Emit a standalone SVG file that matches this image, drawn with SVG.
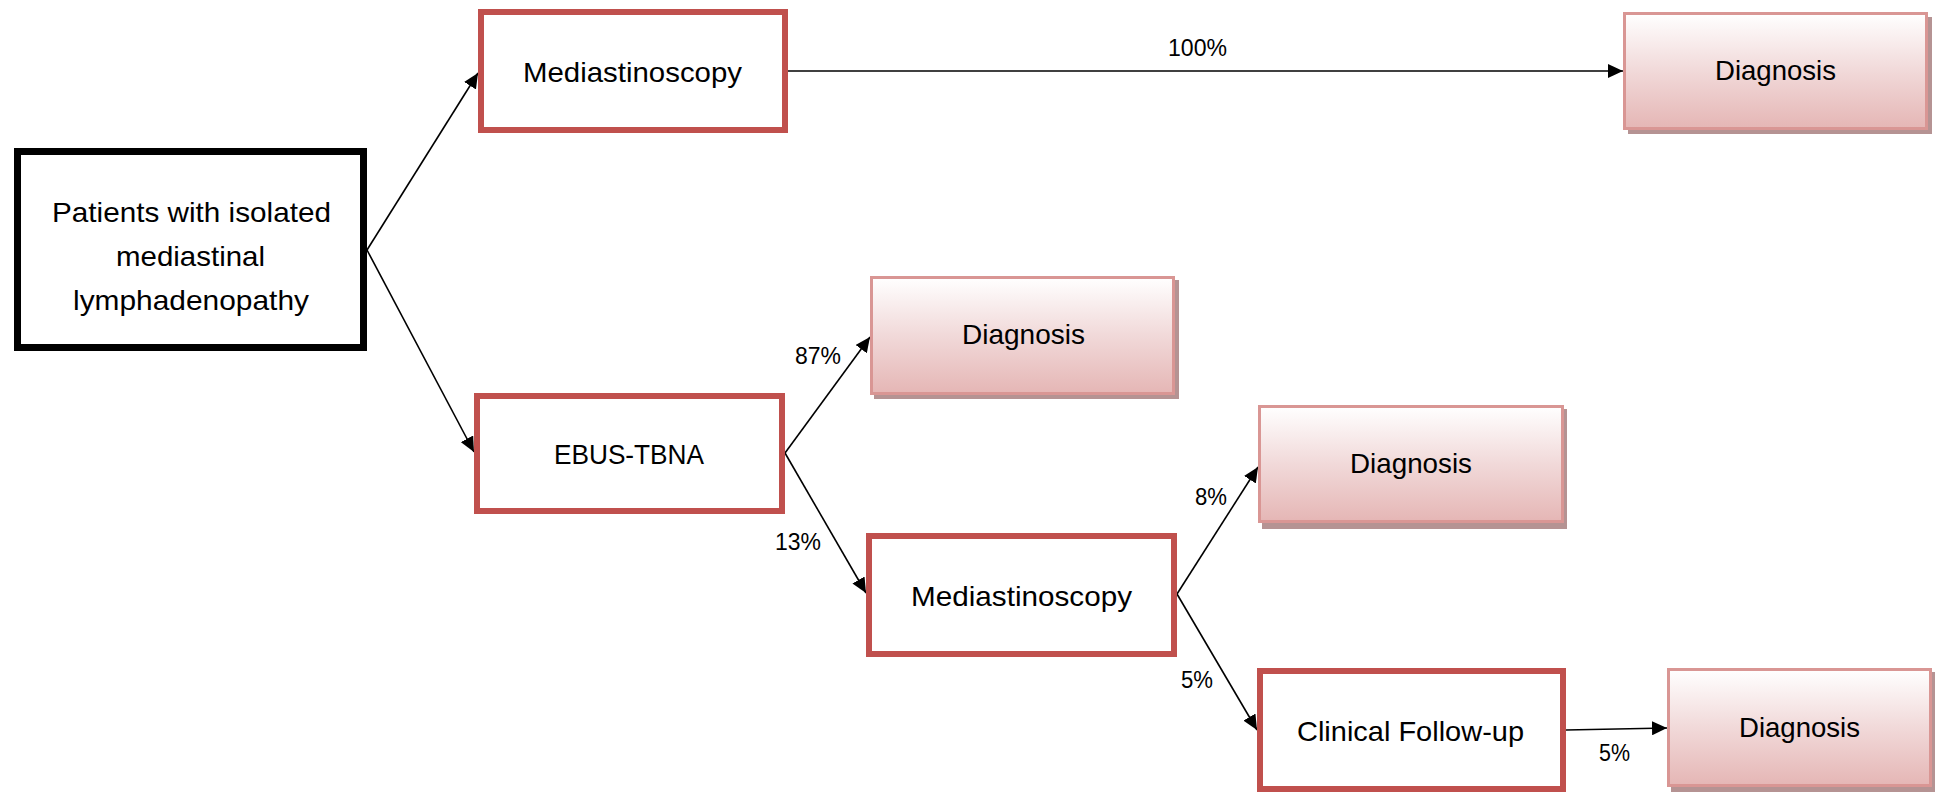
<svg xmlns="http://www.w3.org/2000/svg" width="1943" height="795" viewBox="0 0 1943 795">
<style>
.node-text{font-family:"Liberation Sans",Arial,sans-serif;font-size:28px;fill:#000;text-anchor:middle}
.lbl{font-family:"Liberation Sans",Arial,sans-serif;font-size:23px;fill:#000}
.red{fill:#fff;stroke:#C0504D;stroke-width:6}
.diag{fill:url(#pinkGrad);stroke:#D99694;stroke-width:3}
.shadow{fill:#B59393}
.conn{stroke:#000;stroke-width:1.6;fill:none;marker-end:url(#arrow)}
</style>
<defs>
<linearGradient id="pinkGrad" x1="0" y1="0" x2="0" y2="1">
<stop offset="0" stop-color="#FFFFFF"/>
<stop offset="0.5" stop-color="#F1D9D9"/>
<stop offset="1" stop-color="#E5B6B5"/>
</linearGradient>
<marker id="arrow" markerUnits="userSpaceOnUse" markerWidth="16" markerHeight="14" refX="15" refY="7" orient="auto">
<path d="M0,0 L15,7 L0,14 z" fill="#000"/>
</marker>
</defs>
<rect width="1943" height="795" fill="#fff"/>

<g id="connectors">
<line class="conn" x1="367" y1="250" x2="478" y2="73"/>
<line class="conn" x1="367" y1="250" x2="474" y2="452"/>
<line class="conn" x1="788" y1="71" x2="1623" y2="71"/>
<line class="conn" x1="785" y1="453" x2="870" y2="337"/>
<line class="conn" x1="785" y1="453" x2="866" y2="593"/>
<line class="conn" x1="1177" y1="594" x2="1258" y2="467"/>
<line class="conn" x1="1177" y1="594" x2="1257" y2="730"/>
<line class="conn" x1="1566" y1="730" x2="1667" y2="728"/>
<text class="lbl" x="1168" y="56" textLength="59" lengthAdjust="spacingAndGlyphs">100%</text>
<text class="lbl" x="795" y="364" textLength="46" lengthAdjust="spacingAndGlyphs">87%</text>
<text class="lbl" x="775" y="550" textLength="46" lengthAdjust="spacingAndGlyphs">13%</text>
<text class="lbl" x="1195" y="505" textLength="32" lengthAdjust="spacingAndGlyphs">8%</text>
<text class="lbl" x="1181" y="688" textLength="32" lengthAdjust="spacingAndGlyphs">5%</text>
<text class="lbl" x="1599" y="761" textLength="31" lengthAdjust="spacingAndGlyphs">5%</text>
</g>

<g id="patients">
<rect x="17.5" y="151.5" width="346" height="196" fill="#fff" stroke="#000" stroke-width="7"/>
<text class="node-text" x="191.5" y="222" textLength="279" lengthAdjust="spacingAndGlyphs">Patients with isolated</text>
<text class="node-text" x="190.5" y="266" textLength="149" lengthAdjust="spacingAndGlyphs">mediastinal</text>
<text class="node-text" x="191" y="310" textLength="236" lengthAdjust="spacingAndGlyphs">lymphadenopathy</text>
</g>

<g id="mediastinoscopy1">
<rect class="red" x="481" y="12" width="304" height="118"/>
<text class="node-text" x="632.5" y="82" textLength="219" lengthAdjust="spacingAndGlyphs">Mediastinoscopy</text>
</g>

<g id="diagnosis-top">
<rect class="shadow" x="1628" y="17" width="304" height="117"/>
<rect class="diag" x="1624.5" y="13.5" width="302" height="115"/>
<text class="node-text" x="1775.5" y="80" textLength="121" lengthAdjust="spacingAndGlyphs">Diagnosis</text>
</g>

<g id="ebus-tbna">
<rect class="red" x="477" y="396" width="305" height="115"/>
<text class="node-text" x="629" y="464" textLength="150" lengthAdjust="spacingAndGlyphs">EBUS-TBNA</text>
</g>

<g id="diagnosis-87">
<rect class="shadow" x="874" y="280" width="305" height="119"/>
<rect class="diag" x="871.5" y="277.5" width="302" height="116"/>
<text class="node-text" x="1023.5" y="344" textLength="123" lengthAdjust="spacingAndGlyphs">Diagnosis</text>
</g>

<g id="mediastinoscopy2">
<rect class="red" x="869" y="536" width="305" height="118"/>
<text class="node-text" x="1021.5" y="606" textLength="221" lengthAdjust="spacingAndGlyphs">Mediastinoscopy</text>
</g>

<g id="diagnosis-8">
<rect class="shadow" x="1262" y="409" width="305" height="120"/>
<rect class="diag" x="1259.5" y="406.5" width="303" height="115"/>
<text class="node-text" x="1411" y="473" textLength="122" lengthAdjust="spacingAndGlyphs">Diagnosis</text>
</g>

<g id="clinical-follow-up">
<rect class="red" x="1260" y="671" width="303" height="118"/>
<text class="node-text" x="1410.5" y="741" textLength="227" lengthAdjust="spacingAndGlyphs">Clinical Follow-up</text>
</g>

<g id="diagnosis-bottom">
<rect class="shadow" x="1671" y="672" width="264" height="120"/>
<rect class="diag" x="1668.5" y="669.5" width="262" height="116"/>
<text class="node-text" x="1799.5" y="737" textLength="121" lengthAdjust="spacingAndGlyphs">Diagnosis</text>
</g>
</svg>
